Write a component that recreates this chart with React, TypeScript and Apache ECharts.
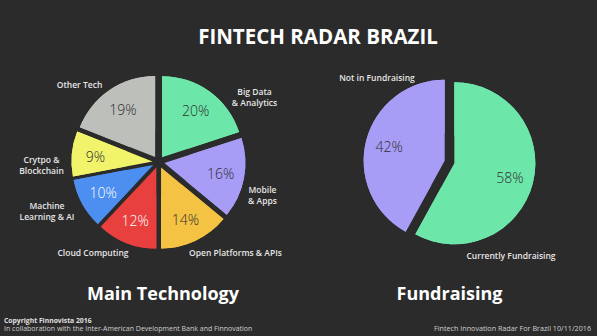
import React, { useEffect, useRef } from "react";
import * as echarts from "echarts";

const techNames = [
  "Big Data\n& Analytics",
  "Mobile\n& Apps",
  "Open Platforms & APIs",
  "Cloud Computing",
  "Machine\nLearning & AI",
  "Crytpo &\nBlockchain",
  "Other Tech",
];
const techValues = [20, 16, 14, 12, 10, 9, 19];
const techColors = ["#6de6aa", "#a89df6", "#f5c344", "#e8403f", "#4d8ff0", "#f1f46a", "#bcbfba"];
const techLabelColors = ["#2e2e2e", "#2e2e2e", "#2e2e2e", "#ffffff", "#ffffff", "#2e2e2e", "#2e2e2e"];

const fundNames = ["Currently Fundraising", "Not in Fundraising"];
const fundValues = [58, 42];
const fundColors = ["#6de6aa", "#a89df6"];
const fundLabelColors = ["#2e2e2e", "#2e2e2e"];

// label layout (positions of category names)
const techNamePos: [number, number][] = [
  [254.5, 96.5],
  [262.5, 194.5],
  [235.5, 252],
  [93, 252],
  [47, 211],
  [41.5, 164.5],
  [79.5, 84],
];
const fundNamePos: [number, number][] = [
  [511, 255],
  [377, 77.5],
];

const FONT = "'Open Sans', 'Noto Sans', sans-serif";
const BG = "#2b2b2b";

function pieSeries(
  names: string[],
  values: number[],
  colors: string[],
  labelColors: string[],
  center: [number, number],
  radius: number,
  offset: number
) {
  return {
    type: "pie",
    center,
    radius: [radius * 0.34, radius],
    startAngle: 90,
    clockwise: true,
    selectedMode: "multiple",
    selectedOffset: offset,
    silent: true,
    emphasis: { disabled: true },
    data: names.map((n, i) => ({
      name: n,
      value: values[i],
      selected: true,
      itemStyle: { color: colors[i] },
      select: { itemStyle: { color: colors[i] } },
      label: { color: labelColors[i] },
    })),
    label: {
      show: true,
      position: "inside",
      formatter: "{c}%",
      fontFamily: FONT,
      fontSize: 14,
      fontWeight: 300,
    },
    labelLine: { show: false },
  };
}

// the donut hole (r0) is filled by a plain pie of the same data with no labels
function fillSeries(
  names: string[],
  values: number[],
  colors: string[],
  center: [number, number],
  radius: number,
  offset: number
) {
  return {
    type: "pie",
    center,
    radius,
    startAngle: 90,
    clockwise: true,
    selectedMode: "multiple",
    selectedOffset: offset,
    silent: true,
    z: 1,
    emphasis: { disabled: true },
    data: names.map((n, i) => ({
      name: n,
      value: values[i],
      selected: true,
      itemStyle: { color: colors[i] },
      select: { itemStyle: { color: colors[i] } },
    })),
    label: { show: false },
    labelLine: { show: false },
  };
}

function nameTexts(names: string[], pos: [number, number][]) {
  return names.map((n, i) => ({
    type: "text",
    x: pos[i][0],
    y: pos[i][1],
    style: {
      text: n,
      fill: "#e6e6e6",
      fontFamily: FONT,
      fontSize: 8.5,
      fontWeight: 600,
      lineHeight: 11,
      align: "center",
      verticalAlign: "middle",
    },
  }));
}

export default function App() {
  const ref = useRef<HTMLDivElement>(null);
  useEffect(() => {
    document.body.style.margin = "0";
    document.body.style.background = BG;
    const chart = echarts.init(ref.current!, null, { renderer: "svg" });
    chart.setOption({
      animation: false,
      backgroundColor: BG,
      series: [
        fillSeries(techNames, techValues, techColors, [158.5, 162], 81, 6),
        pieSeries(techNames, techValues, techColors, techLabelColors, [158.5, 162], 81, 6),
        fillSeries(fundNames, fundValues, fundColors, [449.5, 162], 81, 5),
        pieSeries(fundNames, fundValues, fundColors, fundLabelColors, [449.5, 162], 81, 5),
      ],
      graphic: [
        ...nameTexts(techNames, techNamePos),
        ...nameTexts(fundNames, fundNamePos),
        {
          type: "text",
          x: 318,
          y: 36,
          style: {
            text: "FINTECH RADAR BRAZIL",
            fill: "#ffffff",
            fontFamily: FONT,
            fontSize: 20.5,
            fontWeight: "bold",
            align: "center",
            verticalAlign: "middle",
          },
        },
        {
          type: "text",
          x: 163,
          y: 293,
          style: {
            text: "Main Technology",
            fill: "#ffffff",
            fontFamily: FONT,
            fontSize: 18,
            fontWeight: "bold",
            align: "center",
            verticalAlign: "middle",
          },
        },
        {
          type: "text",
          x: 449.5,
          y: 293,
          style: {
            text: "Fundraising",
            fill: "#ffffff",
            fontFamily: FONT,
            fontSize: 18,
            fontWeight: "bold",
            align: "center",
            verticalAlign: "middle",
          },
        },
        {
          type: "text",
          x: 4,
          y: 320,
          style: {
            text: "Copyright Finnovista 2016",
            fill: "#e0e0e0",
            fontFamily: FONT,
            fontSize: 6.8,
            fontWeight: "bold",
            align: "left",
            verticalAlign: "middle",
          },
        },
        {
          type: "text",
          x: 4,
          y: 328,
          style: {
            text: "In collaboration with the Inter-American Development Bank and Finnovation",
            fill: "#cfcfcf",
            fontFamily: FONT,
            fontSize: 7,
            align: "left",
            verticalAlign: "middle",
          },
        },
        {
          type: "text",
          x: 591,
          y: 328,
          style: {
            text: "Fintech Innovation Radar For Brazil 10/11/2016",
            fill: "#cfcfcf",
            fontFamily: FONT,
            fontSize: 7.2,
            align: "right",
            verticalAlign: "middle",
          },
        },
      ],
    });
    return () => chart.dispose();
  }, []);
  return <div ref={ref} style={{ width: 597, height: 336 }} />;
}
